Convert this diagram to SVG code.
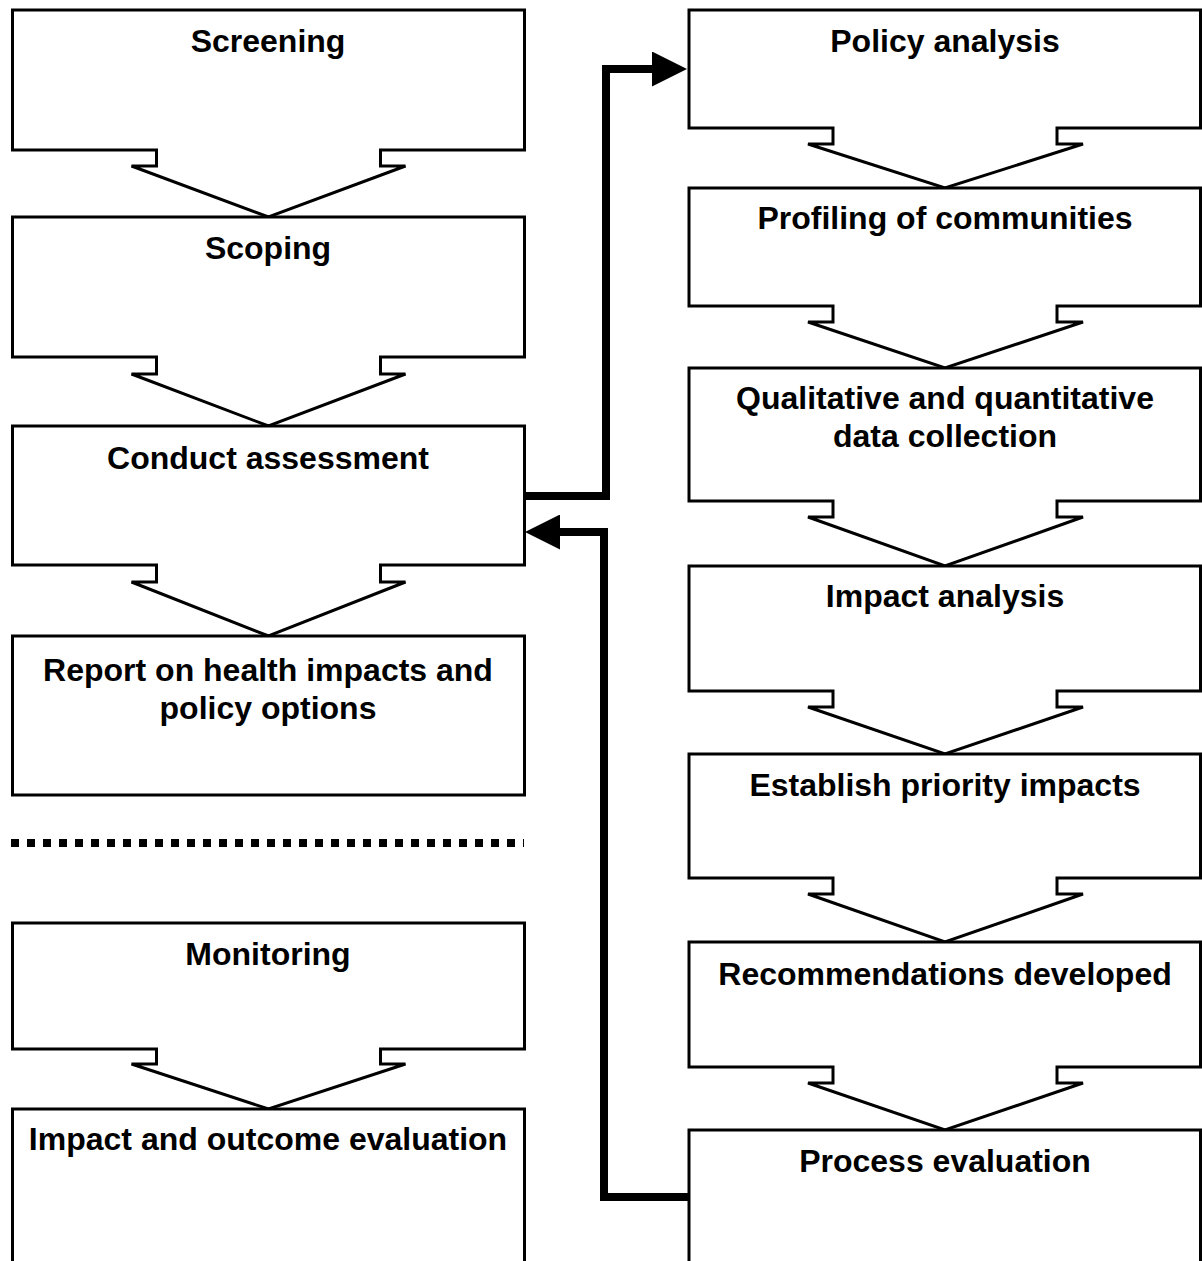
<svg xmlns="http://www.w3.org/2000/svg" width="1202" height="1261" viewBox="0 0 1202 1261">
  <style>
    .box { fill: #ffffff; stroke: #000000; stroke-width: 3; stroke-linejoin: miter; }
    .label { font-family: "Liberation Sans", Arial, sans-serif; font-weight: bold; font-size: 32px; fill: #000000; text-anchor: middle; }
    .flow { fill: none; stroke: #000000; stroke-width: 8; stroke-linejoin: miter; stroke-linecap: butt; }
    .divider { fill: none; stroke: #000000; stroke-width: 8; stroke-dasharray: 8 8; }
  </style>
  <defs>
    <marker id="head" viewBox="0 0 35 35" refX="0" refY="17.5" markerWidth="35" markerHeight="35" markerUnits="userSpaceOnUse" orient="auto">
      <path d="M0,0 L35,17.5 L0,35 Z" fill="#000000"/>
    </marker>
  </defs>

  <rect x="0" y="0" width="1202" height="1261" fill="#ffffff"/>

  <!-- Left column: assessment stages -->
  <g id="screening">
    <path class="box" d="M12.5,10 H524.5 V150 H380.5 V166 H405.5 L268.5,217 L131.5,166 H156.5 V150 H12.5 Z"/>
    <text class="label" x="268" y="52">Screening</text>
  </g>
  <g id="scoping">
    <path class="box" d="M12.5,217 H524.5 V357 H380.5 V374 H405.5 L268.5,426 L131.5,374 H156.5 V357 H12.5 Z"/>
    <text class="label" x="268" y="259">Scoping</text>
  </g>
  <g id="conduct-assessment">
    <path class="box" d="M12.5,426 H524.5 V565 H380.5 V582 H405.5 L268.5,636 L131.5,582 H156.5 V565 H12.5 Z"/>
    <text class="label" x="268" y="469">Conduct assessment</text>
  </g>
  <g id="report">
    <rect class="box" x="12.5" y="636" width="512" height="159"/>
    <text class="label" x="268" y="681">Report on health impacts and</text>
    <text class="label" x="268" y="719">policy options</text>
  </g>

  <!-- Divider between assessment and follow-up stages -->
  <line class="divider" x1="11" y1="843" x2="524" y2="843"/>

  <g id="monitoring">
    <path class="box" d="M12.5,923 H524.5 V1049 H380.5 V1064 H405.5 L268.5,1109 L131.5,1064 H156.5 V1049 H12.5 Z"/>
    <text class="label" x="268" y="965">Monitoring</text>
  </g>
  <g id="impact-outcome-evaluation">
    <rect class="box" x="12.5" y="1109" width="512" height="170"/>
    <text class="label" x="268" y="1150">Impact and outcome evaluation</text>
  </g>

  <!-- Right column: detailed assessment steps -->
  <g id="policy-analysis">
    <path class="box" d="M689,10 H1200.5 V128 H1057 V144 H1083 L945,188 L808,144 H833 V128 H689 Z"/>
    <text class="label" x="945" y="52">Policy analysis</text>
  </g>
  <g id="profiling">
    <path class="box" d="M689,188 H1200.5 V306 H1057 V322 H1083 L945,368 L808,322 H833 V306 H689 Z"/>
    <text class="label" x="945" y="229">Profiling of communities</text>
  </g>
  <g id="data-collection">
    <path class="box" d="M689,368 H1200.5 V501 H1057 V517 H1083 L945,566 L808,517 H833 V501 H689 Z"/>
    <text class="label" x="945" y="409">Qualitative and quantitative</text>
    <text class="label" x="945" y="447">data collection</text>
  </g>
  <g id="impact-analysis">
    <path class="box" d="M689,566 H1200.5 V691 H1057 V707 H1083 L945,754 L808,707 H833 V691 H689 Z"/>
    <text class="label" x="945" y="607">Impact analysis</text>
  </g>
  <g id="priority-impacts">
    <path class="box" d="M689,754 H1200.5 V878 H1057 V894 H1083 L945,942 L808,894 H833 V878 H689 Z"/>
    <text class="label" x="945" y="796">Establish priority impacts</text>
  </g>
  <g id="recommendations">
    <path class="box" d="M689,942 H1200.5 V1067 H1057 V1083 H1083 L945,1130 L808,1083 H833 V1067 H689 Z"/>
    <text class="label" x="945" y="985">Recommendations developed</text>
  </g>
  <g id="process-evaluation">
    <rect class="box" x="689" y="1130" width="511.5" height="150"/>
    <text class="label" x="945" y="1172">Process evaluation</text>
  </g>

  <!-- Connectors between the two columns -->
  <g id="connectors">
    <path class="flow" d="M524,496 H606 V69 H652" marker-end="url(#head)"/>
    <path class="flow" d="M689,1197 H604 V532 H560" marker-end="url(#head)"/>
  </g>
</svg>
